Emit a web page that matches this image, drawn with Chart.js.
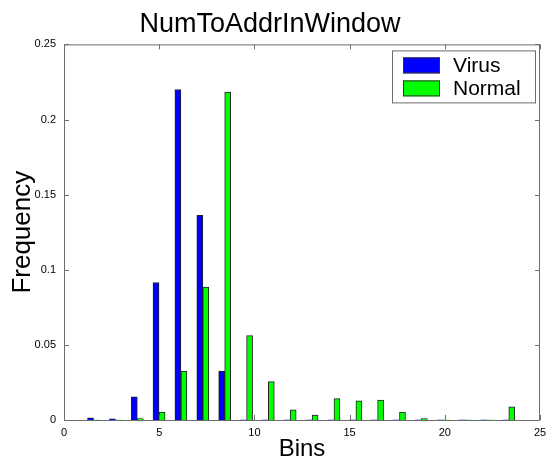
<!DOCTYPE html>
<html>
<head>
<meta charset="utf-8">
<script src="https://cdn.jsdelivr.net/npm/chart.js@4.4.0/dist/chart.umd.min.js"></script>
<style>
  html, body { margin: 0; padding: 0; background: #fff; }
  #wrap { width: 546px; height: 466px; }
</style>
</head>
<body>
<div id="wrap"><canvas id="myChart" width="546" height="466"></canvas></div>
<script>
// bin centres
const binCenters = [1.55, 2.70, 3.85, 4.99, 6.14, 7.29, 8.44, 9.59, 10.73, 11.88,
                    13.03, 14.18, 15.33, 16.47, 17.62, 18.77, 19.92, 21.07, 22.21, 23.36];
const virus  = [0.0015, 0.0008, 0.0155, 0.0915, 0.2200, 0.1362, 0.0325, 0, 0, 0,
                0, 0, 0, 0, 0, 0, 0, 0, 0, 0];
const normal = [0, 0, 0.0010, 0.0053, 0.0325, 0.0885, 0.2182, 0.0562, 0.0255, 0.0067,
                0.0033, 0.0142, 0.0127, 0.0133, 0.0053, 0.0010, 0, 0, 0, 0.0087];
const xTicks = [0, 5, 10, 15, 20, 25];
const yTicks = [0, 0.05, 0.1, 0.15, 0.2, 0.25];

const FONT = '"Liberation Sans", Arial, sans-serif';
Chart.defaults.font.family = FONT;
Chart.defaults.color = '#000';

const AXIS = '#6e6e6e';

// MATLAB style box with inward ticks on all four sides
const boxAxes = {
    id: 'boxAxes',
    afterDatasetsDraw(chart) {
        const { ctx, chartArea: a, scales: { x, y } } = chart;
        ctx.save();
        ctx.strokeStyle = AXIS;
        ctx.lineWidth = 1;
        ctx.strokeRect(a.left + 0.5, a.top + 0.5, a.right - a.left - 1, a.bottom - a.top);
        ctx.beginPath();
        xTicks.forEach(v => {
            const px = Math.round(x.getPixelForValue(v)) + 0.5;
            ctx.moveTo(px, a.bottom); ctx.lineTo(px, a.bottom - 5);
            ctx.moveTo(px, a.top); ctx.lineTo(px, a.top + 5);
        });
        yTicks.forEach(v => {
            const py = Math.round(y.getPixelForValue(v)) + 0.5;
            ctx.moveTo(a.left, py); ctx.lineTo(a.left + 5, py);
            ctx.moveTo(a.right, py); ctx.lineTo(a.right - 5, py);
        });
        ctx.stroke();
        ctx.restore();
    }
};

// legend drawn inside the axes, top right, with a frame
const boxLegend = {
    id: 'boxLegend',
    afterDraw(chart) {
        const { ctx, chartArea: a } = chart;
        const bx = a.right - 148, by = a.top + 6, bw = 143, bh = 52;
        ctx.save();
        ctx.fillStyle = '#fff';
        ctx.fillRect(bx, by, bw, bh);
        ctx.strokeStyle = AXIS;
        ctx.lineWidth = 1;
        ctx.strokeRect(bx + 0.5, by + 0.5, bw, bh);
        ctx.font = '21px ' + FONT;
        ctx.textBaseline = 'middle';
        chart.data.datasets.forEach((ds, i) => {
            const sy = by + 7 + i * 23;
            ctx.fillStyle = ds.backgroundColor;
            ctx.fillRect(bx + 11, sy, 37, 16);
            ctx.strokeStyle = '#333';
            ctx.strokeRect(bx + 11.5, sy + 0.5, 36, 15);
            ctx.fillStyle = '#000';
            ctx.fillText(ds.label, bx + 61, sy + 8.5);
        });
        ctx.restore();
    }
};

// no outline on empty bins
const edge = c => (c.raw && c.raw.y > 0 ? 1 : 0);

new Chart('myChart', {
    type: 'bar',
    data: {
        datasets: [{
            label: 'Virus',
            data: binCenters.map((x, i) => ({ x: x, y: virus[i] })),
            backgroundColor: '#0000ff',
            borderColor: '#222',
            borderWidth: edge,
            barThickness: 6
        },
        {
            label: 'Normal',
            data: binCenters.map((x, i) => ({ x: x, y: normal[i] })),
            backgroundColor: '#00ff00',
            borderColor: '#222',
            borderWidth: edge,
            barThickness: 6
        }]
    },
    options: {
        responsive: false,
        animation: false,
        devicePixelRatio: 1,
        layout: { padding: { top: 0, right: 6, bottom: 0, left: 0 } },
        plugins: {
            legend: { display: false },
            tooltip: { enabled: false },
            title: {
                display: true,
                text: 'NumToAddrInWindow',
                color: '#000',
                font: { size: 27, weight: 'normal' },
                padding: { top: 8, bottom: 4 }
            }
        },
        scales: {
            x: {
                type: 'linear',
                min: 0, max: 25,
                offset: false,
                grid: { display: false, drawTicks: false },
                border: { display: false },
                ticks: { stepSize: 5, padding: 6, font: { size: 11 }, maxRotation: 0 },
                title: { display: true, text: 'Bins', color: '#000', font: { size: 24 }, padding: { top: 0, bottom: 2 } },
                afterFit(s) { s.height = 46; s.paddingLeft = 0; s.paddingRight = 0; }
            },
            y: {
                min: 0, max: 0.25,
                grid: { display: false, drawTicks: false },
                border: { display: false },
                ticks: {
                    stepSize: 0.05, padding: 8, font: { size: 11 },
                    callback: v => String(+v.toFixed(2))
                },
                title: { display: true, text: 'Frequency', color: '#000', font: { size: 26 }, padding: { top: 7, bottom: 0 } },
                afterFit(s) { s.width = 64; s.paddingTop = 0; s.paddingBottom = 0; }
            }
        }
    },
    plugins: [boxAxes, boxLegend]
});
</script>
</body>
</html>
